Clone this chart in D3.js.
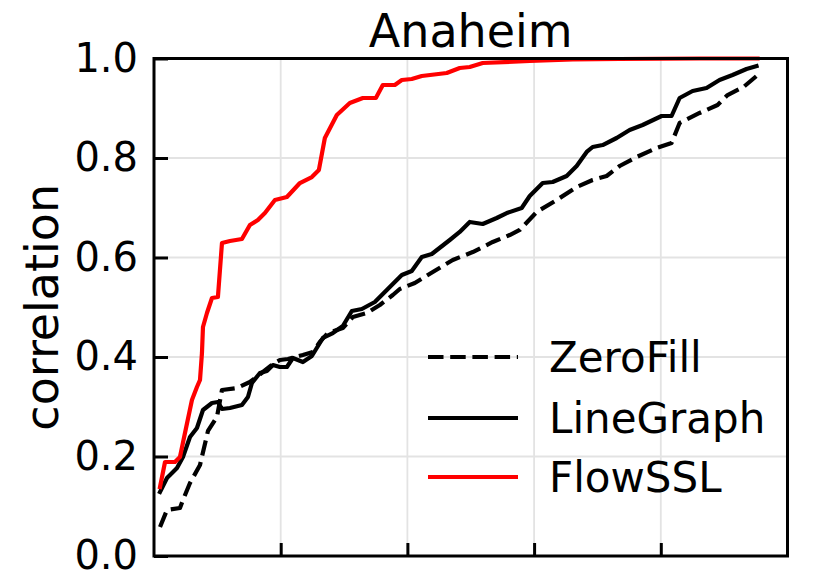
<!DOCTYPE html>
<html><head><meta charset="utf-8">
<script src="https://cdn.jsdelivr.net/npm/d3@7"></script>
<style>body{margin:0;background:#fff}svg{display:block}</style></head>
<body><svg id="c" width="829" height="577"></svg>
<script>
const title = "Anaheim";
const yLabel = "correlation";
const yTicks = [0.0, 0.2, 0.4, 0.6, 0.8, 1.0];
const xTicks = [0.2, 0.4, 0.6, 0.8];
const seriesNames = ["ZeroFill", "LineGraph", "FlowSSL"];

const zeroFillX = [0.0095,0.0205,0.041,0.0457,0.0568,0.0726,0.0852,0.0994,0.1073,0.1309,0.1514,0.1719,0.1877,0.1987,0.2114,0.235,0.2508,0.2618,0.2744,0.2981,0.3139,0.336,0.3565,0.377,0.388,0.4117,0.4401,0.4716,0.5032,0.5347,0.5615,0.5773,0.6041,0.6356,0.6672,0.6924,0.7145,0.735,0.7618,0.7934,0.817,0.8297,0.8612,0.8896,0.9054,0.9306,0.9511];
const zeroFillY = [0.0583,0.0925,0.0965,0.1126,0.1467,0.1829,0.2513,0.2794,0.3337,0.3377,0.3497,0.3698,0.3859,0.394,0.396,0.404,0.41,0.4302,0.4482,0.4583,0.4804,0.4884,0.5045,0.5246,0.5367,0.5487,0.5709,0.595,0.611,0.6312,0.6452,0.6553,0.6915,0.7156,0.7417,0.7558,0.7638,0.7839,0.802,0.8201,0.8302,0.8704,0.8905,0.9065,0.9266,0.9427,0.9648];

const lineGraphX = [0.0095,0.0205,0.0363,0.0457,0.0568,0.0678,0.0773,0.0915,0.1009,0.1073,0.1199,0.1388,0.1483,0.1546,0.1672,0.1782,0.1877,0.1987,0.2098,0.2192,0.235,0.2492,0.2666,0.2823,0.2981,0.3123,0.3281,0.3486,0.3675,0.3912,0.4069,0.4227,0.4385,0.4669,0.4826,0.4984,0.5189,0.541,0.5568,0.5804,0.5931,0.6136,0.6293,0.6514,0.6672,0.683,0.6924,0.7082,0.7303,0.7508,0.7713,0.8013,0.817,0.8297,0.8502,0.8722,0.8927,0.9132,0.9353,0.9511];
const lineGraphY = [0.1286,0.1568,0.1769,0.199,0.2392,0.2573,0.2935,0.3075,0.3095,0.2955,0.2975,0.3035,0.3196,0.3477,0.3678,0.3719,0.3839,0.3799,0.3799,0.398,0.3899,0.402,0.4382,0.4482,0.4623,0.4925,0.4965,0.5106,0.5347,0.5648,0.5729,0.601,0.607,0.6352,0.6513,0.6714,0.6673,0.6794,0.6894,0.6995,0.7236,0.7497,0.7518,0.7638,0.7839,0.8121,0.8221,0.8261,0.8402,0.8563,0.8663,0.8844,0.8844,0.9206,0.9347,0.9407,0.9568,0.9668,0.9789,0.9849];

const flowSSLX = [0.0095,0.0174,0.0331,0.041,0.0489,0.0599,0.0678,0.0726,0.0757,0.0773,0.0836,0.0915,0.1009,0.1073,0.1199,0.1388,0.1514,0.164,0.1751,0.1909,0.2098,0.2303,0.2492,0.2603,0.2697,0.2886,0.3091,0.3297,0.3502,0.3612,0.3801,0.3912,0.4069,0.4227,0.4621,0.4826,0.4984,0.5189,0.5931,0.6609,0.735,0.8612,0.9527];
const flowSSLY = [0.1387,0.1889,0.1889,0.199,0.2472,0.3136,0.3397,0.3538,0.408,0.4603,0.4884,0.5186,0.5206,0.6291,0.6332,0.6372,0.6653,0.6754,0.6894,0.7156,0.7216,0.7497,0.7618,0.7759,0.8402,0.8864,0.9106,0.9206,0.9206,0.9467,0.9467,0.9568,0.9588,0.9648,0.9709,0.9809,0.9829,0.991,0.995,0.998,0.999,1.0,1.0];

const FONT = "DejaVu Sans, Liberation Sans, sans-serif";
const svg = d3.select("#c");
const L = 154, R = 787.5, T = 58.5, B = 556;
const x = d3.scaleLinear().domain([0, 1]).range([L, R]);
const y = d3.scaleLinear().domain([0, 1]).range([B, T]);

// grid
const grid = svg.append("g");
grid.selectAll("line.gx").data(xTicks).enter().append("line")
  .attr("x1", d => x(d)).attr("x2", d => x(d)).attr("y1", T).attr("y2", B)
  .attr("stroke", "#e3e3e3").attr("stroke-width", 1.8);
grid.selectAll("line.gy").data(yTicks.filter(v => v > 0 && v < 1)).enter().append("line")
  .attr("y1", d => y(d)).attr("y2", d => y(d)).attr("x1", L).attr("x2", R)
  .attr("stroke", "#e3e3e3").attr("stroke-width", 1.8);

// series
const series = [
  {name: seriesNames[0], xs: zeroFillX, ys: zeroFillY, color: "#000", dash: "15.5,6.7"},
  {name: seriesNames[1], xs: lineGraphX, ys: lineGraphY, color: "#000", dash: null},
  {name: seriesNames[2], xs: flowSSLX, ys: flowSSLY, color: "#ff0000", dash: null}
];
const line = d3.line().x(d => x(d[0])).y(d => y(d[1]));
series.forEach(s => {
  const pts = s.xs.map((v, i) => [v, s.ys[i]]);
  svg.append("path").datum(pts).attr("d", line)
    .attr("fill", "none").attr("stroke", s.color).attr("stroke-width", 4.2)
    .attr("stroke-linejoin", "round")
    .attr("stroke-linecap", s.dash ? "butt" : "square")
    .attr("stroke-dasharray", s.dash);
});

// axes
const yAxis = d3.axisLeft(y).tickValues(yTicks).tickFormat(d3.format(".1f")).tickSizeInner(-14).tickSizeOuter(0).tickPadding(17);
const gy = svg.append("g").attr("transform", `translate(${L},0)`).call(yAxis);
gy.select(".domain").remove();
gy.selectAll(".tick line").attr("stroke", "#000").attr("stroke-width", 3);
gy.selectAll(".tick text").attr("font-family", FONT).attr("font-size", 40).attr("fill", "#000").attr("dx", 0).attr("x", -16);

const xAxis = d3.axisBottom(x).tickValues(xTicks).tickFormat("").tickSizeInner(-13).tickSizeOuter(0);
const gx = svg.append("g").attr("transform", `translate(0,${B})`).call(xAxis);
gx.select(".domain").remove();
gx.selectAll(".tick line").attr("stroke", "#000").attr("stroke-width", 3);

// spines
svg.append("rect").attr("x", L).attr("y", T).attr("width", R - L).attr("height", B - T)
  .attr("fill", "none").attr("stroke", "#000").attr("stroke-width", 3);

// title
svg.append("text").attr("x", (L + R) / 2).attr("y", 47).attr("text-anchor", "middle")
  .attr("font-family", FONT).attr("font-size", 46).attr("fill", "#000").text(title);

// y label
svg.append("text").attr("transform", `translate(58,${(T + B) / 2}) rotate(-90)`)
  .attr("text-anchor", "middle").attr("font-family", FONT).attr("font-size", 46)
  .attr("fill", "#000").text(yLabel);

// legend
const legRows = [357, 418, 477];
series.forEach((s, i) => {
  svg.append("line").attr("x1", 428).attr("x2", 518).attr("y1", legRows[i]).attr("y2", legRows[i])
    .attr("stroke", s.color).attr("stroke-width", 4.2).attr("stroke-dasharray", s.dash);
  svg.append("text").attr("x", 549).attr("y", legRows[i] + 15).attr("font-family", FONT)
    .attr("font-size", 42).attr("fill", "#000").text(s.name);
});
</script>
</body></html>
